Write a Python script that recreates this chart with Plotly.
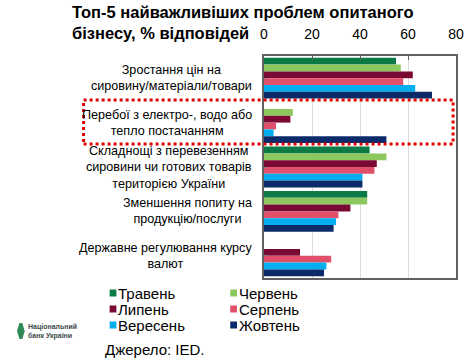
import plotly.graph_objects as go

categories = [
    "Зростання цін на<br>сировину/матеріали/товари",
    "Перебої з електро-, водо або<br>тепло постачанням",
    "Складнощі з перевезенням<br>сировини чи готових товарів<br>територією України",
    "Зменшення попиту на<br>продукцію/послуги",
    "Державне регулювання курсу<br>валют",
]
series_names = ["Травень", "Червень", "Липень", "Серпень", "Вересень", "Жовтень"]
may = [55, None, 44, 43, None]
june = [57, 12, 51, 43, None]
july = [62, 11, 47, 36, 15]
august = [58, 5, 46, 31, 28]
september = [63, 4, 41, 30, 26]
october = [70, 51, 41, 29, 25]
series_values = [may, june, july, august, september, october]
colors = ["#0B7A45", "#8DC85E", "#7A0A33", "#E0506B", "#00AEEF", "#0B2A6A"]
x_ticks = [0, 20, 40, 60, 80]
title_text = "Топ-5 найважливіших проблем опитаного<br>бізнесу, % відповідей"
source_text = "Джерело: IED."

FONT = "Arial, Liberation Sans, sans-serif"
WIDTH, HEIGHT = 476, 362
L, R, T, B = 264, 463, 56, 278
PW, PH = R - L, B - T


def px_x(px):
    return (px - L) / PW


def px_y(py):
    return (B - py) / PH


fig = go.Figure()
for name, vals, col in zip(series_names, series_values, colors):
    fig.add_trace(go.Bar(
        y=list(range(len(categories))), x=vals, name=name, orientation="h",
        marker=dict(color=col, line=dict(width=0)), showlegend=False,
    ))

annotations = []
# category labels
for i, cat in enumerate(categories):
    annotations.append(dict(
        text=cat, xref="paper", x=0, xshift=-10, xanchor="right",
        yref="y", y=i, yanchor="middle", align="center", showarrow=False,
        font=dict(family=FONT, size=12.6, color="#000000"),
    ))
# title
annotations.append(dict(
    text="<b>" + title_text + "</b>", xref="paper", yref="paper",
    x=px_x(63), y=px_y(1), xanchor="left", yanchor="top", align="left",
    showarrow=False, font=dict(family=FONT, size=16.5, color="#000000"),
))
# legend (custom, compact)
shapes = []
for i, (name, col) in enumerate(zip(series_names, colors)):
    c, r = i % 2, i // 2
    mx = 104 + c * 125
    my = 293 + r * 16
    shapes.append(dict(type="rect", xref="paper", yref="paper",
                       x0=px_x(mx), x1=px_x(mx + 7), y0=px_y(my - 3.5), y1=px_y(my + 3.5),
                       fillcolor=col, line=dict(width=0)))
    annotations.append(dict(
        text=name, xref="paper", yref="paper", x=px_x(mx + 7), y=px_y(my),
        xanchor="left", yanchor="middle", showarrow=False,
        font=dict(family=FONT, size=15, color="#000000"),
    ))
annotations.append(dict(
    text=source_text, xref="paper", yref="paper", x=px_x(97), y=px_y(349),
    xanchor="left", yanchor="middle", showarrow=False,
    font=dict(family=FONT, size=15, color="#000000"),
))
# logo text
annotations.append(dict(
    text="<b>Національний<br>банк України</b>", xref="paper", yref="paper",
    x=px_x(17), y=px_y(331), xanchor="left", yanchor="middle", align="left",
    showarrow=False, font=dict(family=FONT, size=7, color="#3c4a4a"),
))
# logo icon
shapes.append(dict(
    type="path", xref="paper", yref="paper",
    path="M {0},{1} L {2},{3} L {4},{3} L {5},{1} L {4},{6} L {2},{6} Z".format(
        px_x(8), px_y(331), px_x(10.5), px_y(323), px_x(13.5), px_x(16), px_y(339)),
    fillcolor="#2f8a55", line=dict(width=0),
))
# highlight box
shapes.append(dict(
    type="rect", xref="paper", yref="paper",
    x0=px_x(77), x1=px_x(460), y0=px_y(144), y1=px_y(100),
    line=dict(color="#E00000", width=3, dash="dot"), fillcolor="rgba(0,0,0,0)",
    layer="above",
))

fig.update_layout(
    width=WIDTH, height=HEIGHT,
    margin=dict(l=L, r=WIDTH - R, t=T, b=HEIGHT - B, pad=0),
    paper_bgcolor="white", plot_bgcolor="white",
    barmode="group", bargap=0.08, bargroupgap=0,
    annotations=annotations, shapes=shapes,
    font=dict(family=FONT, color="#000000"),
    xaxis=dict(
        side="top", range=[0, 80], tickvals=x_ticks, ticktext=[str(v) for v in x_ticks],
        showgrid=True, gridcolor="#dcdcdc", gridwidth=1, zeroline=False,
        showline=True, linecolor="#606060", linewidth=1.5, mirror=True,
        ticks="inside", ticklen=4, tickcolor="#606060", tickwidth=1,
        ticklabelstandoff=10,
        tickfont=dict(family=FONT, size=14, color="#000000"),
    ),
    yaxis=dict(
        range=[len(categories) - 0.5, -0.5], showticklabels=False,
        tickvals=list(range(len(categories))), tickson="boundaries",
        ticks="inside", ticklen=3, tickcolor="#808080",
        showgrid=False, zeroline=False,
        showline=True, linecolor="#606060", linewidth=1.5, mirror=True,
    ),
)

fig.write_html(
    "out.html",
    config={"displayModeBar": False},
    post_script="document.body.style.margin='0';document.body.style.overflow='hidden';",
)
